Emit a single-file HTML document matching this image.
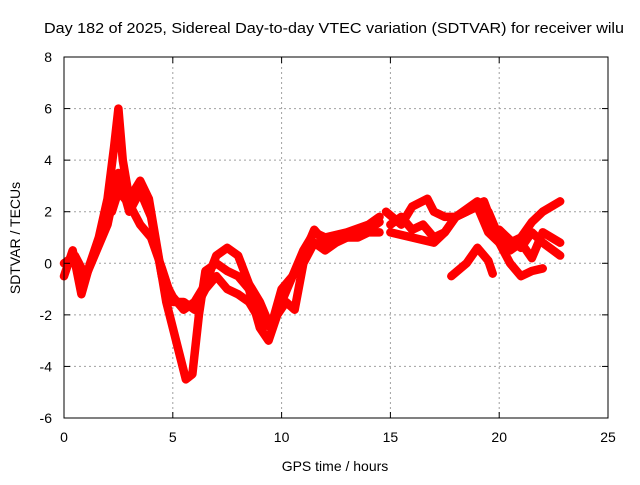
<!DOCTYPE html>
<html><head><meta charset="utf-8"><style>
body{margin:0;background:#fff}
svg text{font-family:"Liberation Sans",sans-serif;fill:#000}
</style></head><body>
<svg id="chart" width="640" height="480" viewBox="0 0 640 480" xmlns="http://www.w3.org/2000/svg">
<rect width="640" height="480" fill="#fff"/>
<text x="44" y="33" font-size="14.5" textLength="580" lengthAdjust="spacingAndGlyphs">Day 182 of 2025, Sidereal Day-to-day VTEC variation (SDTVAR) for receiver wilu</text>
<text transform="translate(20,238) rotate(-90)" text-anchor="middle" font-size="14">SDTVAR / TECUs</text>
<text x="335" y="471" text-anchor="middle" font-size="14">GPS time / hours</text>
<g id="grid"></g><g id="series"></g><g id="axes"></g>
</svg>
<script>
const xTicks=[0,5,10,15,20,25];
const yTicks=[-6,-4,-2,0,2,4,6,8];
const t1=[0,0.4,0.8,1.2,1.6,2.0,2.3,2.5,2.7,3.0,3.5,3.9,4.3,4.7,5.0,5.3,5.6,5.9,6.2,6.5,7.0,7.5,8.0,8.5,9.0,9.4,9.8,10.2,10.6,11.0,11.5,12.0,12.5,13.0,13.5,14.0,14.5];
const v1=[-0.5,0.5,-1.2,0,1.0,2.5,4.5,6.0,4.0,2.5,3.2,2.5,0.5,-1.5,-2.5,-3.5,-4.5,-4.3,-2.0,-0.3,0,-0.3,-0.5,-1.0,-2.5,-3.0,-2.0,-1.5,-1.8,0,0.8,0.5,0.8,1.0,1.0,1.2,1.2];
const t2=[0,0.5,1.0,1.5,2.0,2.5,3.0,3.5,4.0,4.5,5.0,5.5,6.0,6.5,7.0,7.5,8.0,8.5,9.0,9.5,10.0,10.5,11.0,11.5,12.0,13.0,14.0,14.5];
const v2=[0,0.3,-0.5,0.5,1.5,3.5,2.0,2.8,1.8,-0.5,-1.3,-1.8,-1.5,-0.8,0.3,0.6,0.3,-0.8,-1.5,-2.5,-1.5,-0.5,0.5,1.2,1.0,1.2,1.5,1.8];
const t3=[2.2,2.5,3.0,3.5,4.0,4.5,5.0,5.5,6.0,6.5,7.0,7.5,8.0,8.5,9.0,9.5,10.0,10.5,11.0,11.5,12.0,13.0,14.0,14.5];
const v3=[2.0,2.8,2.3,1.5,1.0,-0.2,-1.5,-1.5,-1.8,-1.0,-0.5,-1.0,-1.2,-1.5,-2.2,-2.5,-1.0,-0.5,0.3,1.3,0.8,1.0,1.3,1.6];
const t4=[14.8,15.5,16.0,16.7,17.0,17.5,18.0,18.5,19.0,19.3,19.7,20.0,20.5,21.0,21.5,22.0];
const v4=[2.0,1.5,2.2,2.5,2.0,1.8,1.8,2.0,2.3,2.4,1.5,0.8,0,-0.5,-0.3,-0.2];
const t5=[15.0,15.5,16.0,16.5,17.0,17.5,18.0,18.5,19.0,19.5,20.0,20.5,21.0,21.5,22.0,22.8];
const v5=[1.5,1.8,1.3,1.5,1.0,1.2,1.8,2.0,2.2,1.2,0.8,0.8,1.0,1.6,2.0,2.4];
const t6=[15.0,16.0,17.0,17.5,18.0,19.0,19.5,20.0,20.5,21.0,21.5,22.0,22.8];
const v6=[1.2,1.0,0.8,1.2,1.8,2.4,2.0,1.0,0.5,0.8,0.2,1.2,0.8];
const t7=[17.8,18.5,19.0,19.5,19.7];
const v7=[-0.5,0,0.6,0.1,-0.4];
const t8=[20.0,20.5,21.0,21.5,22.0,22.8];
const v8=[1.3,0.9,0.6,1.2,0.8,0.3];
const series=[[t1,v1],[t2,v2],[t3,v3],[t4,v4],[t5,v5],[t6,v6],[t7,v7],[t8,v8]];

const X0=64,X1=608,Y0=418,Y1=57;
function xs(t){return X0+(t-0)/(25-0)*(X1-X0);}
function ys(v){return Y0-(v+6)/(14)*(Y0-Y1);}
const NS="http://www.w3.org/2000/svg";
function mk(tag,attrs,parent){const e=document.createElementNS(NS,tag);for(const k in attrs)e.setAttribute(k,attrs[k]);parent.appendChild(e);return e;}
const grid=document.getElementById('grid'),axes=document.getElementById('axes'),sg=document.getElementById('series');
xTicks.forEach(t=>{
  const x=xs(t);
  if(t>0&&t<25){const g=mk('line',{x1:x,x2:x,y1:Y1,y2:Y0,stroke:'#a0a0a0','stroke-dasharray':'2,3'},grid);
  
  }
  mk('line',{x1:x,x2:x,y1:Y0,y2:Y0-6,stroke:'#000'},axes);
  mk('line',{x1:x,x2:x,y1:Y1,y2:Y1+6,stroke:'#000'},axes);
  const l=mk('text',{x:x,y:Y0+24,'text-anchor':'middle','font-size':'14'},axes);
  l.textContent=t;
  
  
});
yTicks.forEach(v=>{
  const y=ys(v);
  if(v>-6&&v<8){const g=mk('line',{x1:X0,x2:X1,y1:y,y2:y,stroke:'#a0a0a0','stroke-dasharray':'2,3'},grid);
  
  }
  mk('line',{x1:X0,x2:X0+6,y1:y,y2:y,stroke:'#000'},axes);
  mk('line',{x1:X1,x2:X1-6,y1:y,y2:y,stroke:'#000'},axes);
  const l=mk('text',{x:X0-12,y:y+5,'text-anchor':'end','font-size':'14'},axes);
  l.textContent=v;
  
  
});
const frame=mk('rect',{x:X0,y:Y1,width:X1-X0,height:Y0-Y1,fill:'none',stroke:'#000'},axes);


series.forEach(([ts,vs],i)=>{
  const pts=ts.map((t,j)=>xs(t)+','+ys(vs[j])).join(' ');
  const pl=mk('polyline',{points:pts,fill:'none',stroke:'#ff0000','stroke-width':8.5,'stroke-linejoin':'round','stroke-linecap':'round'},sg);
  
  
  ts.forEach((t,j)=>{
    const x=xs(t),y=ys(vs[j]);
    const p=mk('path',{d:`M${x-4},${y}h8M${x},${y-4}v8`,stroke:'#ff0000','stroke-width':1.5},sg);
    
    
  });
});
</script>
</body></html>
